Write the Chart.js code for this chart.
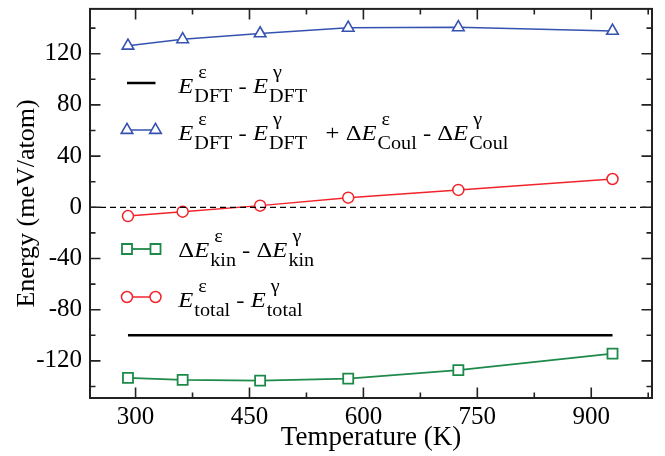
<!DOCTYPE html>
<html>
<head>
<meta charset="utf-8">
<script src="https://cdn.jsdelivr.net/npm/chart.js@4.4.1/dist/chart.umd.min.js"></script>
<style>
  html, body { margin: 0; padding: 0; background: #fff; }
  #wrap { width: 665px; height: 456px; }
</style>
</head>
<body>
<div id="wrap"><canvas id="chart" width="665" height="456"></canvas></div>
<script>
  // Temperatures (K)
  const temperatures = [290, 362, 464, 580, 725, 928];

  // Energy differences epsilon - gamma (meV/atom)
  const dftDiff = [-100, -100, -100, -100, -100, -100];
  const dftCoulDiff = [126.2, 131.2, 135.8, 140.2, 140.6, 137.8];
  const kinDiff = [-133.3, -134.9, -135.4, -133.9, -127.2, -114.3];
  const totalDiff = [-6.9, -3.4, 1.3, 7.5, 13.6, 22.1];

  // Axes
  const xRange = [240, 980];
  const yRange = [-149, 155];
  const xTicks = [300, 450, 600, 750, 900];
  const yTicks = [-120, -80, -40, 0, 40, 80, 120];
  const xMinorStep = 75;
  const yMinorStep = 20;

  const FONT = '"Liberation Serif", "Times New Roman", serif';
  const BLUE = '#3552b0';
  const RED = '#f2232b';
  const GREEN = '#1d8a4a';
  const FRAME = '#222';

  function toPoints(values) {
    return temperatures.map((t, i) => ({ x: t, y: values[i] }));
  }

  const datasets = [
    {
      label: 'zero',
      data: [{ x: xRange[0], y: 0 }, { x: xRange[1], y: 0 }],
      borderColor: '#000', borderWidth: 1.2, borderDash: [6, 4],
      pointRadius: 0
    },
    {
      label: 'dft',
      data: toPoints(dftDiff),
      borderColor: '#000', borderWidth: 2.5, pointRadius: 0
    },
    {
      label: 'dftCoul',
      data: toPoints(dftCoulDiff),
      borderColor: BLUE, borderWidth: 1.5,
      pointStyle: 'triangle', pointRadius: 6.7, pointBorderWidth: 1.6,
      pointBackgroundColor: '#fff', pointBorderColor: BLUE
    },
    {
      label: 'total',
      data: toPoints(totalDiff),
      borderColor: RED, borderWidth: 1.5,
      pointStyle: 'circle', pointRadius: 5.5, pointBorderWidth: 1.5,
      pointBackgroundColor: '#fff', pointBorderColor: RED
    },
    {
      label: 'kin',
      data: toPoints(kinDiff),
      borderColor: GREEN, borderWidth: 1.8,
      pointStyle: 'rect', pointRadius: 7.1, pointBorderWidth: 1.8,
      pointBackgroundColor: '#fff', pointBorderColor: GREEN
    }
  ];

  // Legend rows: sample style + rich text pieces
  const legendRows = [
    { y: 83, base: 92.5, dataset: 1,
      parts: [{ sup: '\u03b5', sub: 'DFT' }, ' - ', { sup: '\u03b3', sub: 'DFT' }] },
    { y: 130, base: 140, dataset: 2,
      parts: [{ sup: '\u03b5', sub: 'DFT' }, ' - ', { sup: '\u03b3', sub: 'DFT' }, '   + ',
              { delta: true, sup: '\u03b5', sub: 'Coul' }, ' - ', { delta: true, sup: '\u03b3', sub: 'Coul' }] },
    { y: 249, base: 257, dataset: 4,
      parts: [{ delta: true, sup: '\u03b5', sub: 'kin' }, ' - ', { delta: true, sup: '\u03b3', sub: 'kin' }] },
    { y: 297, base: 306.5, dataset: 3,
      parts: [{ sup: '\u03b5', sub: 'total' }, ' - ', { sup: '\u03b3', sub: 'total' }] }
  ];

  const SX = 1.12;
  const MAIN_FONT = '22px ' + FONT;
  const ITALIC_FONT = 'italic 22px ' + FONT;
  const SMALL_FONT = '18px ' + FONT;

  // Draw a piece of text horizontally stretched, return its width
  function piece(ctx, text, font, x, y) {
    ctx.font = font;
    const w = ctx.measureText(text).width * SX;
    ctx.save();
    ctx.translate(x, y);
    ctx.scale(SX, 1);
    ctx.fillText(text, 0, 0);
    ctx.restore();
    return w;
  }

  function drawRich(ctx, x, base, parts) {
    let cx = x;
    parts.forEach(p => {
      if (typeof p === 'string') {
        cx += piece(ctx, p, MAIN_FONT, cx, base);
        return;
      }
      if (p.delta) cx += piece(ctx, '\u0394', MAIN_FONT, cx, base);
      cx += piece(ctx, 'E', ITALIC_FONT, cx, base);
      const wSup = piece(ctx, p.sup, SMALL_FONT, cx + 5, base - 15) + 5;
      const wSub = piece(ctx, p.sub, SMALL_FONT, cx + 1, base + 9) + 1;
      cx += Math.max(wSup, wSub);
    });
  }

  // No automatic label padding: keep the plot box where the reference has it
  function fixBox(s, size) {
    if (s.isHorizontal()) s.height = size; else s.width = size;
    s.paddingTop = 0; s.paddingBottom = 0; s.paddingLeft = 0; s.paddingRight = 0;
  }

  const framePlugin = {
    id: 'frameTicks',
    afterDraw(chart) {
      const { ctx, chartArea: a, scales: { x, y } } = chart;
      ctx.save();
      ctx.strokeStyle = FRAME;

      // inward tick marks on all four sides
      const major = 10.5, minor = 5.5;
      ctx.lineWidth = 1.6;
      ctx.beginPath();
      for (let v = Math.ceil(xRange[0] / xMinorStep) * xMinorStep; v <= xRange[1]; v += xMinorStep) {
        const px = x.getPixelForValue(v);
        const len = xTicks.includes(v) ? major : minor;
        ctx.moveTo(px, a.bottom); ctx.lineTo(px, a.bottom - len);
        ctx.moveTo(px, a.top); ctx.lineTo(px, a.top + len);
      }
      for (let v = Math.ceil(yRange[0] / yMinorStep) * yMinorStep; v <= yRange[1]; v += yMinorStep) {
        const py = y.getPixelForValue(v);
        const len = yTicks.includes(v) ? major : minor;
        ctx.moveTo(a.left, py); ctx.lineTo(a.left + len, py);
        ctx.moveTo(a.right, py); ctx.lineTo(a.right - len, py);
      }
      ctx.stroke();

      // frame
      ctx.lineWidth = 2;
      ctx.strokeRect(a.left, a.top, a.right - a.left, a.bottom - a.top);

      // legend
      const x1 = 127, x2 = 155.5, textX = 178.3;
      legendRows.forEach(row => {
        const ds = chart.data.datasets[row.dataset];
        ctx.strokeStyle = ds.borderColor;
        ctx.lineWidth = ds.borderWidth;
        ctx.setLineDash([]);
        ctx.beginPath();
        ctx.moveTo(x1, row.y); ctx.lineTo(x2, row.y);
        ctx.stroke();
        if (ds.pointRadius > 0) {
          ctx.fillStyle = ds.pointBackgroundColor;
          ctx.strokeStyle = ds.pointBorderColor;
          ctx.lineWidth = ds.pointBorderWidth;
          const opts = { pointStyle: ds.pointStyle, radius: ds.pointRadius, rotation: 0, borderWidth: ds.pointBorderWidth };
          Chart.helpers.drawPoint(ctx, opts, x1, row.y);
          Chart.helpers.drawPoint(ctx, opts, x2, row.y);
        }
        ctx.fillStyle = '#000';
        ctx.textBaseline = 'alphabetic';
        ctx.textAlign = 'left';
        drawRich(ctx, textX, row.base, row.parts);
      });
      ctx.restore();
    }
  };

  new Chart(document.getElementById('chart'), {
    type: 'line',
    data: { datasets: datasets },
    options: {
      responsive: false,
      animation: false,
      layout: { padding: { top: 5, right: 13, left: 0, bottom: 0 } },
      elements: { line: { tension: 0 } },
      plugins: { legend: { display: false }, tooltip: { enabled: false } },
      scales: {
        x: {
          type: 'linear',
          min: xRange[0],
          max: xRange[1],
          afterBuildTicks: s => { s.ticks = xTicks.map(v => ({ value: v })); },
          afterFit: s => fixBox(s, 58),
          grid: { display: false, drawTicks: false },
          border: { display: false },
          ticks: { color: '#000', font: { family: FONT, size: 25 }, padding: 4, maxRotation: 0, autoSkip: false },
          title: { display: true, text: 'Temperature (K)', color: '#000',
                   font: { family: FONT, size: 27 }, padding: { top: 0, bottom: 2 } }
        },
        y: {
          min: yRange[0],
          max: yRange[1],
          afterBuildTicks: s => { s.ticks = yTicks.map(v => ({ value: v })); },
          afterFit: s => fixBox(s, 90),
          grid: { display: false, drawTicks: false },
          border: { display: false },
          ticks: { color: '#000', font: { family: FONT, size: 25 }, padding: 8, autoSkip: false },
          title: { display: true, text: 'Energy (meV/atom)', color: '#000',
                   font: { family: FONT, size: 26 }, padding: { top: 12, bottom: 0 } }
        }
      }
    },
    plugins: [framePlugin]
  });
</script>
</body>
</html>
